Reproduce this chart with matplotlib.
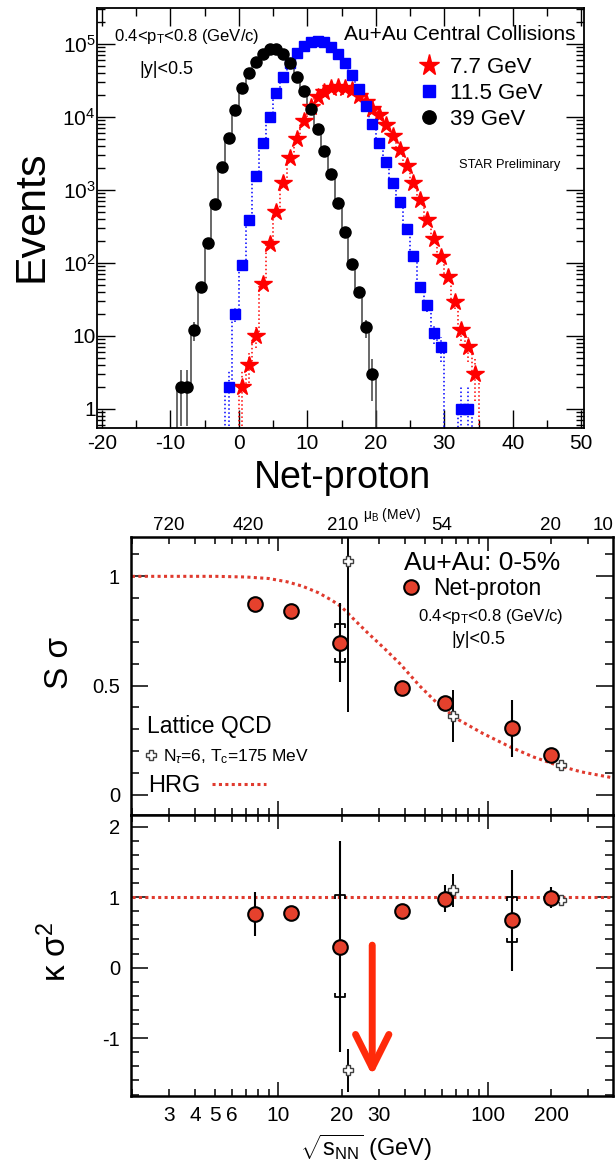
import numpy as np
import matplotlib
matplotlib.use('Agg')
import matplotlib.pyplot as plt
from matplotlib.path import Path
from matplotlib.ticker import FixedLocator, FixedFormatter, MultipleLocator, NullLocator, LogLocator

plt.rcParams['font.family'] = ['Liberation Sans', 'DejaVu Sans']
plt.rcParams['mathtext.fontset'] = 'custom'
plt.rcParams['mathtext.rm'] = 'Liberation Sans'
plt.rcParams['mathtext.it'] = 'Liberation Sans:italic'
plt.rcParams['mathtext.bf'] = 'Liberation Sans:bold'
plt.rcParams['axes.unicode_minus'] = False

# ---------------- top panel: net-proton distributions (bin centre -> events)
x_77 = np.arange(0.5, 35.0, 1.0)
n_77 = [2, 4, 10, 52, 180, 500, 1230, 2700, 5000, 8900, 13700, 18700, 22000,
        24500, 25500, 25000, 23000, 19500, 16000, 13000, 10500, 7700, 5400,
        3500, 2100, 1230, 720, 390, 210, 120, 64, 29, 12, 7, 3]
x_115 = np.arange(-1.5, 34.0, 1.0)
n_115 = [2, 20, 93, 390, 1550, 4350, 10000, 21000, 35500, 55000, 76000, 93000,
         105000, 110000, 105000, 91000, 72000, 54000, 37000, 24000, 14000, 8000,
         4400, 2400, 1250, 680, 290, 125, 47, 26, 11, 7, 0, 0, 1, 1]
x_39 = np.arange(-8.5, 20.0, 1.0)
n_39 = [2, 2, 12, 46, 185, 640, 2060, 5200, 12300, 24500, 40000, 56000, 73000,
        85000, 84000, 73000, 54000, 35000, 22500, 13000, 6900, 3400, 1650, 660,
        265, 95, 40, 13, 3]
top_yticks = [1, 10, 100, 1e3, 1e4, 1e5]
top_yticklabels = ['1', '10', '$10^{2}$', '$10^{3}$', '$10^{4}$', '$10^{5}$']

# ---------------- lower panels: S sigma and kappa sigma^2 vs sqrt(s_NN)
snn = [7.7, 11.5, 19.6, 39, 62.4, 130, 200]
s_sig = [0.873, 0.84, 0.697, 0.488, 0.422, 0.305, 0.182]
s_err = [0.01, 0.01, 0.18, 0.01, 0.02, 0.13, 0.02]
k_sig = [0.766, 0.78, 0.30, 0.80, 0.98, 0.67, 0.99]
k_err = [0.31, 0.05, 1.5, 0.05, 0.19, 0.71, 0.15]
s_sys_snn = [19.6]
s_sys_hi = [0.783]
s_sys_lo = [0.61]
k_sys_snn = [19.6, 130]
k_sys_hi = [1.026, 1.0]
k_sys_lo = [-0.417, 0.36]

lat_snn = [21.5, 68, 223]
lat_s = [1.069, 0.361, 0.139]
lat_s_err = [0.69, 0.117, 0.02]
lat_k = [-1.457, 1.097, 0.955]
lat_k_err = [0.31, 0.23, 0.04]

hrg_snn = [2.0, 5.0, 7.0, 9.0, 11, 13, 15.5, 18, 20, 22, 26.4, 31.6, 38, 47,
           58.5, 72.5, 94, 127, 164, 213, 276, 394]
hrg_s = [1.0, 1.0, 0.997, 0.99, 0.975, 0.955, 0.925, 0.89, 0.86, 0.82, 0.745,
         0.675, 0.60, 0.50, 0.41, 0.343, 0.282, 0.22, 0.174, 0.136, 0.106, 0.078]
hrg_k_snn = [2.0, 394]
hrg_k = [1.0, 1.0]

mub_snn = [3.0, 7.2, 20.3, 60, 198, 352]
mub_labels = ['720', '420', '210', '54', '20', '10']

x_minor = [2, 3, 4, 5, 6, 7, 8, 9, 20, 30, 40, 50, 60, 70, 80, 90, 200, 300]
x_minor_labels = ['', '3', '4', '5', '6', '', '', '', '20', '30', '', '', '', '',
                  '', '', '200', '']

arrow_snn = 28.0
arrow_tail = 0.32
arrow_tip = -1.53

W, H = 615, 1164
fig = plt.figure(figsize=(W / 100, H / 100), dpi=100)


def rect(l, t, r, b):
    return [l / W, 1 - b / H, (r - l) / W, (b - t) / H]


def fx(x):
    return x / W


def fy(y):
    return 1 - y / H


def draw_dist(ax, x, n, color, lcolor, marker, ms, ls, label):
    x = np.asarray(x, float)
    n = np.asarray(n, float)
    edges = np.append(x - 0.5, x[-1] + 0.5)
    ax.stairs(np.where(n > 0, n, 1e-2), edges, baseline=1e-2, color=lcolor,
              ls=ls, lw=1.1, zorder=2)
    ok = n > 0
    err = np.sqrt(n[ok])
    lo = np.minimum(err, n[ok] - 1e-2)
    eb = ax.errorbar(x[ok], n[ok], yerr=[lo, err], fmt='none', ecolor=lcolor,
                     elinewidth=1.1, zorder=2)
    eb[2][0].set_linestyle(ls)
    h, = ax.plot(x[ok], n[ok], ls='none', marker=marker, ms=ms, color=color,
                 mec=color, label=label, zorder=3)
    return h


# ---------------- top panel
ax1 = fig.add_axes(rect(97, 8, 584, 428))
h77 = draw_dist(ax1, x_77, n_77, '#ff0000', '#ff0000', '*', 13, ':', '7.7 GeV')
h115 = draw_dist(ax1, x_115, n_115, '#0000ff', '#0000ff', 's', 7, ':', '11.5 GeV')
h39 = draw_dist(ax1, x_39, n_39, 'black', '#404040', 'o', 8, '-', '39 GeV')
ax1.set_yscale('log')
ax1.set_xlim(-20.7, 50.4)
ax1.set_ylim(0.545, 3.1e5)
ax1.xaxis.set_major_locator(MultipleLocator(10))
ax1.xaxis.set_minor_locator(MultipleLocator(5))
ax1.yaxis.set_major_locator(FixedLocator(top_yticks))
ax1.yaxis.set_major_formatter(FixedFormatter(top_yticklabels))
ax1.yaxis.set_minor_locator(LogLocator(base=10, subs=np.arange(2, 10)))
ax1.tick_params(which='both', direction='in', top=True, right=True, width=1)
ax1.tick_params(which='major', length=13, labelsize=15)
ax1.tick_params(axis='x', which='major', pad=4)
ax1.tick_params(axis='y', which='major', pad=1)
ax1.tick_params(which='minor', length=6)
for sp in ax1.spines.values():
    sp.set_linewidth(1.3)
ax1.legend(handles=[h77, h115, h39], loc='upper left',
           bbox_to_anchor=(fx(418), fy(57)), bbox_transform=fig.transFigure,
           frameon=False, fontsize=16, handlelength=1.0, handletextpad=0.45,
           borderpad=0, borderaxespad=0, labelspacing=0.22, markerscale=1.2)

fig.text(fx(114), fy(37), '0.4<p$_\\mathrm{T}$<0.8 (GeV/c)', fontsize=12, va='center')
fig.text(fx(139), fy(69), '|y|<0.5', fontsize=13, va='center')
fig.text(fx(575), fy(34), 'Au+Au Central Collisions', fontsize=15, ha='right', va='center')
fig.text(fx(459), fy(165), 'STAR Preliminary', fontsize=9.3, va='center')
fig.text(fx(32), fy(216), 'Events', fontsize=31, rotation=90, ha='center', va='center')
fig.text(fx(342), fy(478), 'Net-proton', fontsize=27, ha='center', va='center')

# ---------------- lower panels
top_br = Path([(-1, -0.8), (-1, 0), (1, 0), (1, -0.8)],
              [Path.MOVETO, Path.LINETO, Path.LINETO, Path.LINETO])
bot_br = Path([(-1, 0.8), (-1, 0), (1, 0), (1, 0.8)],
              [Path.MOVETO, Path.LINETO, Path.LINETO, Path.LINETO])
red = '#e5412d'
hrg_red = '#e03a2e'


def style_lower(ax):
    ax.set_xscale('log')
    ax.set_xlim(1.98, 394)
    ax.xaxis.set_major_locator(FixedLocator([10, 100]))
    ax.xaxis.set_minor_locator(FixedLocator(x_minor))
    ax.tick_params(which='both', direction='in', top=True, right=True, width=1.1)
    ax.tick_params(axis='x', which='major', length=10)
    ax.tick_params(axis='x', which='minor', length=5)
    ax.tick_params(axis='y', which='major', length=12, labelsize=14.5, pad=8)
    ax.tick_params(axis='y', which='minor', length=6)
    for sp in ax.spines.values():
        sp.set_linewidth(1.8)


def draw_points(ax, yv, ye, lat_y, lat_e, sys_x, sys_hi, sys_lo):
    ax.errorbar(lat_snn, lat_y, yerr=lat_e, fmt='none', ecolor='black',
                elinewidth=1.4, zorder=3)
    hl, = ax.plot(lat_snn, lat_y, ls='none', marker='P', ms=7.5, mfc='white',
                  mec='#404040', mew=1.0, zorder=4)
    ax.errorbar(snn, yv, yerr=ye, fmt='none', ecolor='black', elinewidth=1.5,
                zorder=3)
    ax.plot(sys_x, sys_hi, ls='none', marker=top_br, ms=7, mfc='none',
            mec='black', mew=1.3, zorder=3)
    ax.plot(sys_x, sys_lo, ls='none', marker=bot_br, ms=7, mfc='none',
            mec='black', mew=1.3, zorder=3)
    hp, = ax.plot(snn, yv, ls='none', marker='o', ms=10.5, mfc=red, mec='black',
                  mew=1.5, zorder=5)
    return hl, hp


# S sigma
ax2 = fig.add_axes(rect(131, 537, 613, 815))
hh, = ax2.plot(hrg_snn, hrg_s, color=hrg_red, ls=(0, (1, 1.1)), lw=2.2, zorder=2)
hl, hp = draw_points(ax2, s_sig, s_err, lat_s, lat_s_err, s_sys_snn, s_sys_hi, s_sys_lo)
ax2.set_ylim(-0.092, 1.18)
ax2.yaxis.set_major_locator(FixedLocator([0, 0.5, 1]))
ax2.yaxis.set_major_formatter(FixedFormatter(['0', '0.5', '1']))
ax2.yaxis.set_minor_locator(MultipleLocator(0.1))
style_lower(ax2)
ax2.tick_params(axis='x', which='both', labelbottom=False)

axm = ax2.twiny()
axm.set_xscale('log')
axm.set_xlim(ax2.get_xlim())
axm.xaxis.set_major_locator(FixedLocator(mub_snn))
axm.xaxis.set_major_formatter(FixedFormatter(mub_labels))
axm.xaxis.set_minor_locator(NullLocator())
axm.tick_params(axis='x', length=0, labelsize=13.5, pad=2)
for sp in axm.spines.values():
    sp.set_visible(False)
ax2.tick_params(which='both', top=True)

leg1 = ax2.legend([hp], ['Net-proton'], loc='upper left',
                  bbox_to_anchor=(fx(401), fy(577)), bbox_transform=fig.transFigure,
                  frameon=False, fontsize=16.5, handlelength=0.9, handletextpad=0.5,
                  borderpad=0, borderaxespad=0)
ax2.add_artist(leg1)
leg2 = ax2.legend([hl], ['N$_{\\tau}$=6, T$_\\mathrm{c}$=175 MeV'], loc='upper left',
                  bbox_to_anchor=(fx(144), fy(747)), bbox_transform=fig.transFigure,
                  frameon=False, fontsize=12.5, handlelength=0.8, handletextpad=0.3,
                  borderpad=0, borderaxespad=0)
ax2.add_artist(leg2)
ax2.legend([hh], ['HRG'], loc='upper left', markerfirst=False,
           bbox_to_anchor=(fx(148), fy(775)), bbox_transform=fig.transFigure,
           frameon=False, fontsize=17, handlelength=2.3, handletextpad=0.5,
           borderpad=0, borderaxespad=0)

fig.text(fx(404), fy(563), 'Au+Au: 0-5%', fontsize=19, va='center')
fig.text(fx(418), fy(617), '0.4<p$_\\mathrm{T}$<0.8 (GeV/c)', fontsize=12, va='center')
fig.text(fx(451), fy(640), '|y|<0.5', fontsize=13, va='center')
fig.text(fx(147), fy(727), 'Lattice QCD', fontsize=16.5, va='center')
fig.text(fx(363), fy(515), 'μ$_\\mathrm{B}$ (MeV)', fontsize=10, va='center')
fig.text(fx(60), fy(663), 'S σ', fontsize=24, rotation=90, ha='center', va='center')

# kappa sigma^2
ax3 = fig.add_axes(rect(131, 815, 613, 1096))
ax3.plot(hrg_k_snn, hrg_k, color=hrg_red, ls=(0, (1, 1.1)), lw=2.2, zorder=2)
draw_points(ax3, k_sig, k_err, lat_k, lat_k_err, k_sys_snn, k_sys_hi, k_sys_lo)
ax3.set_ylim(-1.82, 2.166)
ax3.yaxis.set_major_locator(FixedLocator([-1, 0, 1, 2]))
ax3.yaxis.set_major_formatter(FixedFormatter(['-1', '0', '1', '2']))
ax3.yaxis.set_minor_locator(MultipleLocator(0.2))
style_lower(ax3)
ax3.xaxis.set_major_formatter(FixedFormatter(['10', '100']))
ax3.xaxis.set_minor_formatter(FixedFormatter(x_minor_labels))
ax3.tick_params(axis='x', which='both', labelsize=15, pad=7)
ax3.annotate('', xy=(arrow_snn, arrow_tip), xytext=(arrow_snn, arrow_tail),
             arrowprops=dict(arrowstyle='->, head_length=1.2, head_width=0.6',
                             lw=5, color='#ff2a0a', mutation_scale=20,
                             shrinkA=0, shrinkB=0))

fig.text(fx(56), fy(952), 'κ σ$^{2}$', fontsize=24, rotation=90, ha='center', va='center')
fig.text(fx(366), fy(1148), '$\\sqrt{\\mathrm{s}_{\\mathrm{NN}}}$ (GeV)', fontsize=17,
         ha='center', va='center')

fig.savefig('out.png', dpi=100)
